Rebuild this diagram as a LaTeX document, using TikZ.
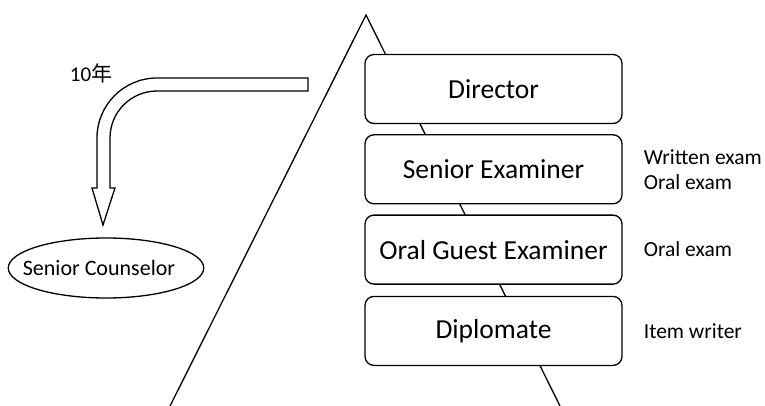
\documentclass[tikz,border=0pt]{standalone}
\usepackage{fontspec}
\setmainfont{Carlito}
\newfontfamily\cjk{Noto Sans CJK SC}
\usetikzlibrary{positioning, shapes.geometric}

\begin{document}
\begin{tikzpicture}[
    x=1pt, y=-1pt,
    node distance=10pt,
    rank/.style={rectangle, draw, line width=1.3pt, rounded corners=9pt, fill=white, minimum width=257pt, minimum height=69pt, align=center, font=\fontsize{27.5}{31}\selectfont},
    duty/.style={align=left, inner sep=0pt, font=\fontsize{21.5}{25}\selectfont},
    counsel/.style={ellipse, draw, line width=1.3pt, minimum width=188pt, minimum height=60pt, inner sep=0pt, font=\fontsize{22}{26}\selectfont},
    pyramid/.style={line width=1.3pt},
    hollow/.style={draw, line width=1.3pt, fill=white}
  ]
  \useasboundingbox (0,0) rectangle (765,406);

  % Pyramid outline
  \coordinate (apex) at (366,15);
  \coordinate (footL) at (170,406);
  \coordinate (footR) at (560,406);
  \draw[pyramid] (footL) -- (apex) -- (footR);

  % Ranks
  \node[rank] (director) at (493.5,89) {Director};
  \node[rank, below=of director] (senior) {Senior Examiner};
  \node[rank, below=of senior] (guest) {Oral Guest Examiner};
  \node[rank, below=11pt of guest] (diplomate) {Diplomate};

  % Duties
  \node[duty, right=21pt of senior] (seniorduty) {Written exam\\Oral exam};
  \node[duty, right=21pt of guest] (guestduty) {Oral exam};
  \node[duty, right=21pt of diplomate] (diplomateduty) {Item writer};

  % Counselor after ten years
  \node[counsel] (counselor) at (106,268) {\hspace*{-14pt}Senior Counselor};
  \node[font=\fontsize{21}{24}\selectfont] (years) at (91,73) {10{\cjk 年}};
  \draw[hollow] (308,78) -- (157,78) arc[start angle=270, end angle=180, radius=60]
    -- (97,188) -- (92,188) -- (103,225) -- (115,188) -- (110,188) -- (110,138)
    arc[start angle=180, end angle=270, radius=47] -- (308,91) -- cycle;
\end{tikzpicture}
\end{document}
